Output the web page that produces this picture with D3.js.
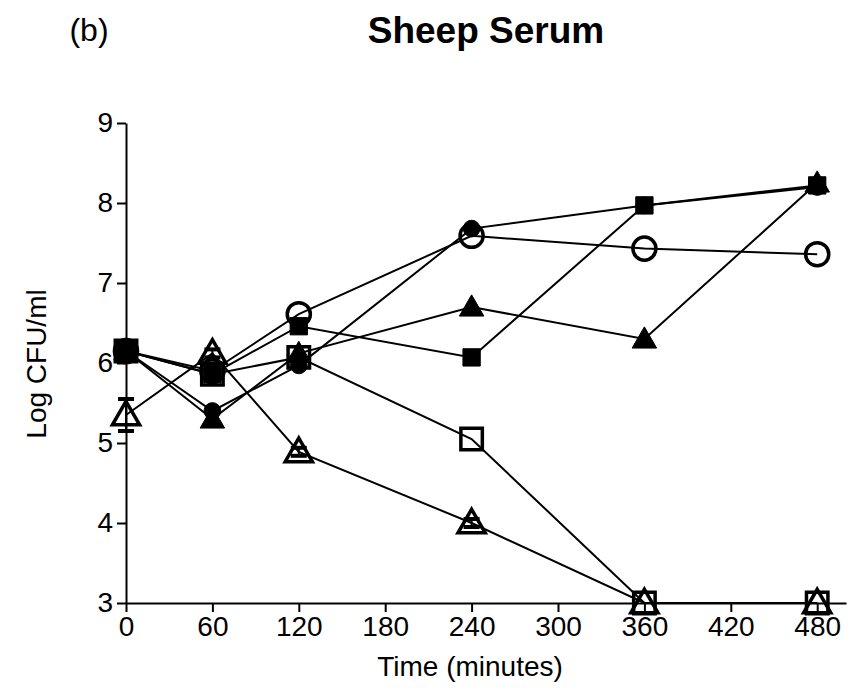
<!DOCTYPE html>
<html>
<head>
<meta charset="utf-8">
<script src="https://cdn.jsdelivr.net/npm/d3@7"></script>
<style>
  body { margin: 0; background: #fff; }
  text { font-family: "Liberation Sans", Arial, sans-serif; }
</style>
</head>
<body>
<script>
// data
var times = [0, 60, 120, 240, 360, 480];
var xTicks = [0, 60, 120, 180, 240, 300, 360, 420, 480];
var yTicks = [3, 4, 5, 6, 7, 8, 9];

var filledSquare   = [6.15, 5.86, 6.46, 6.07, 7.97, 8.22];
var openCircle     = [6.15, 5.90, 6.61, 7.59, 7.43, 7.36];
var filledTriangle = [6.15, 5.30, 6.12, 6.70, 6.30, 8.25];
var filledCircle   = [6.15, 5.40, 5.97, 7.68, 7.97, 8.20];
var openSquare     = [6.15, 5.86, 6.07, 5.05, 3.00, 3.00];
var openTriangle   = [5.35, 6.12, 4.89, 4.00, 3.00, 3.00];
var openTriangleErr = [0.2, 0.05, 0.05, 0.05, 0, 0];

var series = [
  {name: "filledSquare", values: filledSquare, shape: "square", fill: true},
  {name: "filledTriangle", values: filledTriangle, shape: "triangle", fill: true},
  {name: "filledCircle", values: filledCircle, shape: "circle", fill: true},
  {name: "openCircle", values: openCircle, shape: "circle", fill: false},
  {name: "openSquare", values: openSquare, shape: "square", fill: false},
  {name: "openTriangle", values: openTriangle, shape: "triangle", fill: false, err: openTriangleErr}
];

var W = 855, H = 696;
var svg = d3.select("body").append("svg")
    .attr("width", W)
    .attr("height", H);

var x = d3.scaleLinear().domain([0, 500]).range([126, 846]);
var y = d3.scaleLinear().domain([3, 9]).range([603, 123]);

// axes
var xAxis = d3.axisBottom(x).tickValues(xTicks).tickFormat(d3.format("d"))
    .tickSize(9).tickPadding(4).tickSizeOuter(0);
var yAxis = d3.axisLeft(y).tickValues(yTicks).tickFormat(d3.format("d"))
    .tickSize(9).tickPadding(4).tickSizeOuter(0);

var gx = svg.append("g").attr("transform", "translate(0," + y(3) + ")").call(xAxis);
var gy = svg.append("g").attr("transform", "translate(" + x(0) + ",0)").call(yAxis);

[gx, gy].forEach(function(g){
  g.attr("font-size", null).attr("font-family", null);
  g.selectAll("path, line").attr("stroke", "#000").attr("stroke-width", 2);
  g.selectAll("text").attr("fill", "#000").style("font-size", "28px");
});

// lines
var line = d3.line()
    .x(function(d, i){ return x(times[i]); })
    .y(function(d){ return y(d); });

series.forEach(function(s){
  svg.append("path")
    .datum(s.values)
    .attr("fill", "none")
    .attr("stroke", "#000")
    .attr("stroke-width", 2)
    .attr("d", line);
});

// error bars
series.forEach(function(s){
  if (!s.err) return;
  s.values.forEach(function(v, i){
    if (!s.err[i]) return;
    var cx = x(times[i]);
    svg.append("line")
      .attr("x1", cx).attr("x2", cx)
      .attr("y1", y(v - s.err[i])).attr("y2", y(v + s.err[i]))
      .attr("stroke", "#000").attr("stroke-width", 2);
    [v - s.err[i], v + s.err[i]].forEach(function(e){
      svg.append("line")
        .attr("x1", cx - 8).attr("x2", cx + 8)
        .attr("y1", y(e)).attr("y2", y(e))
        .attr("stroke", "#000").attr("stroke-width", 4);
    });
  });
});

// markers
function markerPath(shape, fill){
  if (shape === "square") {
    return d3.symbol().type(d3.symbolSquare).size(fill ? 300 : 460)();
  }
  if (shape === "circle") {
    return d3.symbol().type(d3.symbolCircle).size(fill ? 220 : 420)();
  }
  return d3.symbol().type(d3.symbolTriangle).size(fill ? 260 : 320)();
}

series.forEach(function(s){
  svg.append("g").selectAll("path")
    .data(s.values)
    .enter().append("path")
    .attr("d", markerPath(s.shape, s.fill))
    .attr("transform", function(d, i){
      var dy = s.shape === "triangle" ? 2 : 0;
      return "translate(" + x(times[i]) + "," + (y(d) + dy) + ")";
    })
    .attr("fill", s.fill ? "#000" : "none")
    .attr("stroke", "#000")
    .attr("stroke-width", s.fill ? 1 : 3.5);
});

// titles
svg.append("text")
  .attr("x", 89).attr("y", 41)
  .attr("text-anchor", "middle")
  .style("font-size", "32px")
  .text("(b)");

svg.append("text")
  .attr("x", 486).attr("y", 43)
  .attr("text-anchor", "middle")
  .style("font-size", "37px").style("font-weight", "bold")
  .text("Sheep Serum");

svg.append("text")
  .attr("x", 470).attr("y", 676)
  .attr("text-anchor", "middle")
  .style("font-size", "28px")
  .text("Time (minutes)");

svg.append("text")
  .attr("transform", "translate(46,364) rotate(-90)")
  .attr("text-anchor", "middle")
  .style("font-size", "28px")
  .text("Log CFU/ml");
</script>
</body>
</html>
